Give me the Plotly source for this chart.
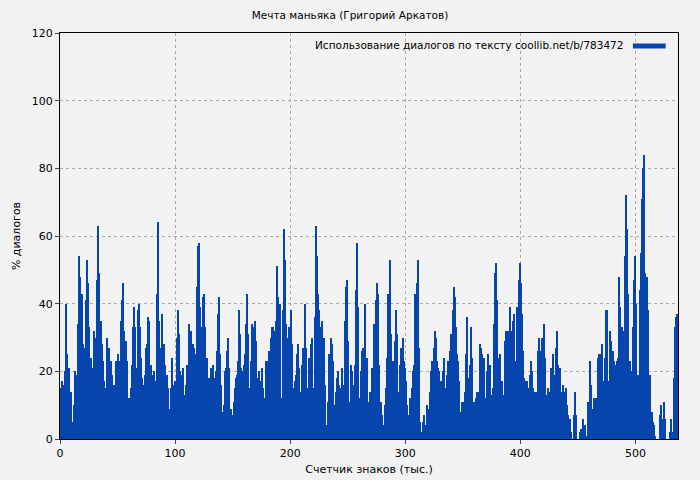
import plotly.graph_objects as go
import numpy as np

title = "Мечта маньяка (Григорий Аркатов)"
legend_name = "Использование диалогов по тексту coollib.net/b/783472"
x_title = "Счетчик знаков (тыс.)"
y_title = "% диалогов"

seg1 = [6,15,17,16,15,20,40,25,11,21,14,5,1,10,20,14,19,34,54,48,36,43,28,25,27,41,53,46,33,24,21,18,32,30,18,47,63,49,26,35,28,23,17,10,15,30,24,27,23,19,14,16,16,23,17,25,22,23,35,41,46,32,17,29,23,11,12,15,22,33,39,33,21,21,38,40,33,24,18,16,14,19,27,28,36,35,22,19,19,20,14,17,43,64,35,15]
seg2 = [27,37,27,28,22,18,19,15,9,15,24,16,12,17,14,30,38,31,20,15,19,21,13,9,16,22,20,34,32,18,28,27,25,21,45,57,58,39,16,33,42,43,33,16,24,17,18,21,17,22,11,18,20,26,37,42,25,16,5,8,10,20,21,26,30,21,9,5,7,11,15,18,19,23,38,31,21,20,17,22,25,34,43,31,15,23,34,33,32,35,29,18,16,20,14,17,21,15,10,12,23,20,23,26,30,33,33,20,32,35,51]
seg3 = [42,27,40,6,12,38,62,53,34,30,21,33,38,28,12,15,17,19,25,28,21,9,14,22,27,26,40,27,14,15,24,28,30,15,9,36,63,54,43,38,24,33,35,27,30,16,4,4,11,25,30,28,23,10,9,14,18,20,16,15,14,21,16,13,35,45,47,29,11,22,20,15,16,22,44,58,39,12,11,20,26,27,26,40,24,24,11,14,14,21,20,34,32,41,46,43,22,5,11,7,1,4,10,15,24]
seg4 = [43,53,31,20,23,18,29,38,31,14,11,22,27,23,30,23,21,17,10,7,12,8,15,20,22,43,41,46,53,27,5,2,2,5,7,4,4,10,9,14,20,23,21,27,32,30,23,21,20,17,11,17,20,24,14,15,19,23,26,31,27,38,45,42,33,25,23,17,8,8,11,11,11,14,25,36,18,22,33,24,11,10,11,12,14,12,14,28,27,25,18,24,12,7,20,25,22,13,8,15,34,49,52,41,24,14]
seg5 = [25,14,17,13,13,29,32,22,32,39,32,19,35,37,18,23,39,33,47,52,46,37,26,18,17,15,17,15,19,23,20,15,14,10,14,14,26,30,26,24,30,28,34,24,10,13,15,14,21,14,25,19,12,27,32,22,15,21,13,14,16,10,14,15,10,7,6,2,0,0,7,14,7,0,0,0,2,3,3,6,3,4,1,0,11,23,16,5,9,12,9,12,12,24,25,19,25,28,17,6,24,38,38,17,32,29,24,26,23,22,21,23,24,48,39,27,33,30,32,54,72,62,43,23,6,20,33,47,54,40,16,19,19,44,55,71,80,84,49,39,48,38,19,6,8,5,4,1,0,0,0,0,7,10,4,6,11,6,0,0,0,2,6,2,2,18,33,36,37]

values = seg1 + seg2 + seg3 + seg4 + seg5
N = len(values)
step = 537.0 / N
xs = [i * step for i in range(N)]

fig = go.Figure(go.Bar(x=xs, y=values, width=step, marker=dict(color="#0645ad", line=dict(width=0)),
                       name=legend_name, showlegend=False))

font = dict(family="DejaVu Sans", size=11, color="#000")
fig.update_layout(
    width=700, height=480,
    margin=dict(l=60, r=22, t=33, b=41),
    paper_bgcolor="#f2f2f2", plot_bgcolor="#f2f2f2",
    font=font, bargap=0,
    title=dict(text=title, x=0.5, xanchor="center", y=0.975, yanchor="top", font=dict(size=10.5), automargin=False),
    xaxis=dict(range=[0, 537], tickvals=[0,100,200,300,400,500], showgrid=True, automargin=False,
               gridcolor="#aaa", griddash="dot", zeroline=False, showline=True, linecolor="#000",
               mirror=True, ticks="outside", ticklen=4,
               title=dict(text=x_title, standoff=6, font=dict(size=11))),
    yaxis=dict(range=[0, 120], tickvals=[0,20,40,60,80,100,120], showgrid=True, automargin=False,
               gridcolor="#aaa", griddash="dot", zeroline=False, showline=True, linecolor="#000",
               mirror=True, ticks="outside", ticklen=4,
               title=dict(text=y_title, standoff=8, font=dict(size=11))),
    annotations=[dict(text=legend_name, xref="paper", yref="paper", x=0.915, y=0.99,
                      xanchor="right", yanchor="top", showarrow=False, font=dict(size=10.5))],
    shapes=[dict(type="rect", xref="paper", yref="paper", x0=0.927, x1=0.98, y0=0.962, y1=0.974,
                 fillcolor="#0645ad", line=dict(width=0))],
)
fig.write_html("out.html", config={"displayModeBar": False},
               post_script="document.body.style.margin='0';document.body.style.overflow='hidden';")
